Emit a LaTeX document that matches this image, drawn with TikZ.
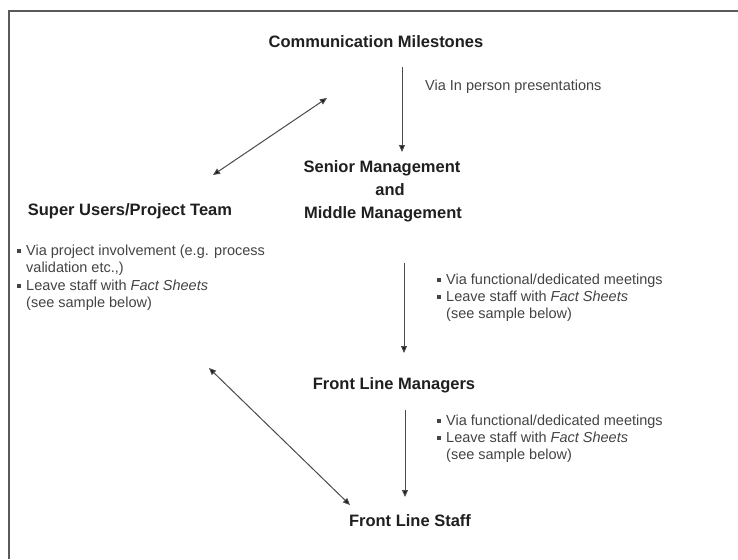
\documentclass[tikz,border=0pt]{standalone}
\usepackage{fontspec}
\setmainfont{Liberation Sans}
\usetikzlibrary{arrows.meta}
\definecolor{txtgray}{HTML}{444444}
\definecolor{linegray}{HTML}{4A4A4A}
\definecolor{framegray}{HTML}{5A5A5A}
\newcommand{\blt}{\makebox[9pt][l]{\rule[0.2em]{0.24em}{0.24em}}}
\begin{document}
\begin{tikzpicture}[x=1pt,y=-1pt,
  title/.style={font=\fontsize{16.5}{20}\selectfont\bfseries, text=black!88, inner sep=0pt, anchor=mid},
  note/.style={font=\fontsize{14.5}{17}\selectfont, text=txtgray, inner sep=0pt, anchor=mid west},
  tip/.style={Triangle[length=7pt,width=6pt,fill=black!90]},
  conn/.style={draw=linegray, line width=1pt, -{Triangle[length=7pt,width=6pt,fill=black!90]}},
  bconn/.style={draw=linegray, line width=1pt, {Triangle[length=7pt,width=6pt,fill=black!90]}-{Triangle[length=7pt,width=6pt,fill=black!90]}}]
\useasboundingbox (0,0) rectangle (738,559);
\fill[white] (0,0) rectangle (738,559);
\draw[framegray, line width=1.5pt] (9,559) -- (9,11) -- (738,11);

% titles
\node[title] (cm)  at (376,45)  {Communication Milestones};
\node[title] (sm)  at (382,170) {Senior Management};
\node[title] (and) at (390,193) {and};
\node[title] (mm)  at (383,216) {Middle Management};
\node[title] (su)  at (130,213) {Super Users/Project Team};
\node[title] (flm) at (394,387) {Front Line Managers};
\node[title] (fls) at (410,524) {Front Line Staff};

% notes
\node[note] (n0) at (425,88) {Via In person presentations};

\node[note] (l1) at (17,253) {\blt Via project involvement (e.g. process};
\node[note] (l2) at (26,270) {validation etc.,)};
\node[note] (l3) at (17,288) {\blt Leave staff with \textit{Fact Sheets}};
\node[note] (l4) at (26,305) {(see sample below)};

\node[note] (r1) at (437,282) {\blt Via functional/dedicated meetings};
\node[note] (r2) at (437,299) {\blt Leave staff with \textit{Fact Sheets}};
\node[note] (r3) at (446,316) {(see sample below)};

\node[note] (s1) at (437,423) {\blt Via functional/dedicated meetings};
\node[note] (s2) at (437,440) {\blt Leave staff with \textit{Fact Sheets}};
\node[note] (s3) at (446,457) {(see sample below)};

% connector end points
\coordinate (a1s) at (402,67);
\coordinate (a1e) at (402,152);
\coordinate (a2s) at (404,263);
\coordinate (a2e) at (404,353);
\coordinate (a3s) at (405,410);
\coordinate (a3e) at (405,497);
\coordinate (d1a) at (213,175);
\coordinate (d1b) at (327,98);
\coordinate (d2a) at (209,368);
\coordinate (d2b) at (350,505);

\draw[conn] (a1s) -- (a1e);
\draw[conn] (a2s) -- (a2e);
\draw[conn] (a3s) -- (a3e);
\draw[bconn] (d1a) -- (d1b);
\draw[bconn] (d2a) -- (d2b);
\end{tikzpicture}
\end{document}
